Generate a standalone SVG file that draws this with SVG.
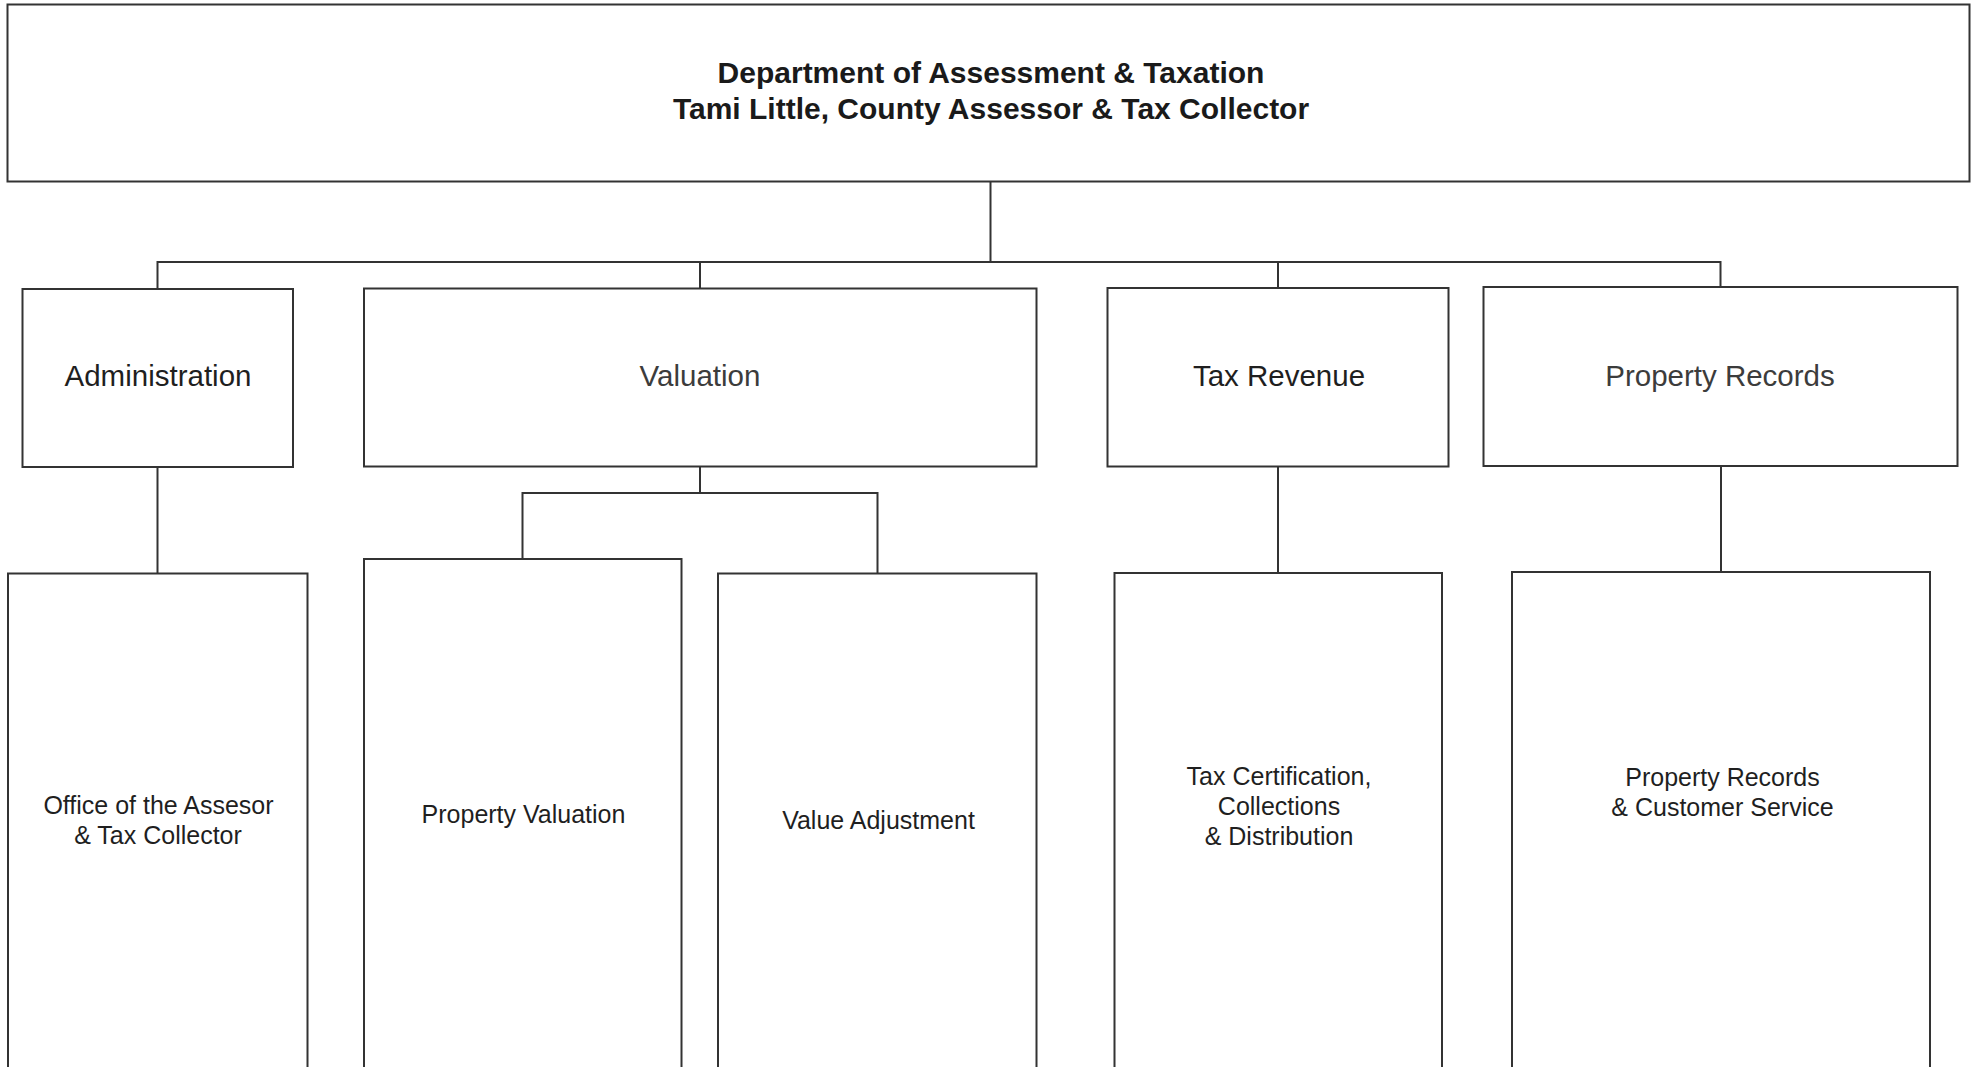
<svg xmlns="http://www.w3.org/2000/svg" width="1979" height="1067" viewBox="0 0 1979 1067">
  <style>
    .box { fill: #ffffff; stroke: #333333; stroke-width: 2; }
    .wire { fill: none; stroke: #333333; stroke-width: 2; }
    .title { font-family: "Liberation Sans", Arial, sans-serif; font-weight: bold; font-size: 30px; fill: #1a1a1a; text-anchor: middle; }
    .unit { font-family: "Liberation Sans", Arial, sans-serif; font-size: 29.5px; fill: #1f1f1f; text-anchor: middle; }
    .unit-light { fill: #3c3c3c; }
    .section { font-family: "Liberation Sans", Arial, sans-serif; font-size: 25px; fill: #1f1f1f; text-anchor: middle; }
  </style>
  <rect x="0" y="0" width="1979" height="1067" fill="#ffffff"/>

  <!-- connectors -->
  <g id="connectors" class="wire">
    <path d="M990.5 181.5 V262"/>
    <path d="M157.5 289 V262 H1720.5 V287"/>
    <path d="M700 262 V288.5"/>
    <path d="M1278 262 V288"/>
    <path d="M157.5 467 V573.5"/>
    <path d="M700 466.5 V493"/>
    <path d="M522.5 559 V493 H877.5 V573.5"/>
    <path d="M1278 466.5 V573"/>
    <path d="M1721 466 V572"/>
  </g>

  <!-- department head -->
  <g id="department">
    <rect class="box" x="7.5" y="4.5" width="1962" height="177"/>
    <text class="title" x="991" y="83">Department of Assessment &amp; Taxation</text>
    <text class="title" x="991" y="119">Tami Little, County Assessor &amp; Tax Collector</text>
  </g>

  <!-- divisions -->
  <g id="administration">
    <rect class="box" x="22.5" y="289" width="270.5" height="178"/>
    <text class="unit" x="158" y="386">Administration</text>
  </g>
  <g id="valuation">
    <rect class="box" x="364" y="288.5" width="672.5" height="178"/>
    <text class="unit unit-light" x="700" y="386">Valuation</text>
  </g>
  <g id="tax-revenue">
    <rect class="box" x="1107.5" y="288" width="341" height="178.5"/>
    <text class="unit" x="1279" y="386">Tax Revenue</text>
  </g>
  <g id="property-records">
    <rect class="box" x="1483.5" y="287" width="474" height="179"/>
    <text class="unit unit-light" x="1720" y="386">Property Records</text>
  </g>

  <!-- sections -->
  <g id="office-assessor">
    <rect class="box" x="8" y="573.5" width="299.5" height="520"/>
    <text class="section" x="158.5" y="814">Office of the Assesor</text>
    <text class="section" x="158" y="844">&amp; Tax Collector</text>
  </g>
  <g id="property-valuation">
    <rect class="box" x="364" y="559" width="317.5" height="540"/>
    <text class="section" x="523.5" y="822.5">Property Valuation</text>
  </g>
  <g id="value-adjustment">
    <rect class="box" x="718" y="573.5" width="318.5" height="520"/>
    <text class="section" x="878.5" y="829">Value Adjustment</text>
  </g>
  <g id="tax-certification">
    <rect class="box" x="1114.5" y="573" width="327.5" height="520"/>
    <text class="section" x="1279" y="785">Tax Certification,</text>
    <text class="section" x="1279" y="815">Collections</text>
    <text class="section" x="1279" y="845">&amp; Distribution</text>
  </g>
  <g id="records-customer-service">
    <rect class="box" x="1512" y="572" width="418" height="520"/>
    <text class="section" x="1722.5" y="786">Property Records</text>
    <text class="section" x="1722.5" y="816">&amp; Customer Service</text>
  </g>
</svg>
